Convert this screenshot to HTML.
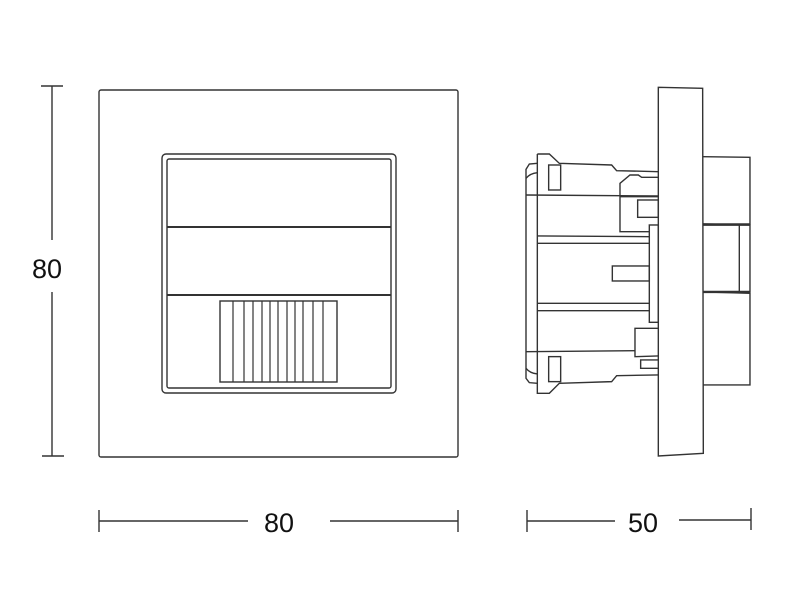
<!DOCTYPE html>
<html><head><meta charset="utf-8"><style>
html,body{margin:0;padding:0;background:#fff;}
svg{display:block;}
text{font-family:"Liberation Sans",sans-serif;fill:#111;}
</style></head><body>
<svg width="800" height="610" viewBox="0 0 800 610" xmlns="http://www.w3.org/2000/svg">
<g fill="none" stroke="#333" stroke-width="1.4">
<!-- front frame -->
<rect x="99" y="90" width="359" height="367" rx="2"/>
<rect x="162" y="154" width="234" height="239" rx="4"/>
<rect x="167" y="159" width="224" height="229" rx="2"/>
<line x1="167" y1="227" x2="391" y2="227" stroke-width="2"/>
<line x1="167" y1="295" x2="391" y2="295" stroke-width="2"/>
<rect x="220" y="301" width="117" height="81"/>
<g stroke-width="1.2">
<line x1="233" y1="301" x2="233" y2="382"/>
<line x1="244" y1="301" x2="244" y2="382"/>
<line x1="253" y1="301" x2="253" y2="382"/>
<line x1="262" y1="301" x2="262" y2="382"/>
<line x1="270" y1="301" x2="270" y2="382"/>
<line x1="278" y1="301" x2="278" y2="382"/>
<line x1="287" y1="301" x2="287" y2="382"/>
<line x1="295" y1="301" x2="295" y2="382"/>
<line x1="303" y1="301" x2="303" y2="382"/>
<line x1="313" y1="301" x2="313" y2="382"/>
<line x1="323" y1="301" x2="323" y2="382"/>
</g>
<!-- dims -->
<line x1="52" y1="86" x2="52" y2="240"/>
<line x1="52" y1="292" x2="52" y2="456"/>
<line x1="41" y1="86" x2="63" y2="86"/>
<line x1="42" y1="456" x2="64" y2="456"/>
<line x1="99" y1="521" x2="248" y2="521"/>
<line x1="330" y1="521" x2="458" y2="521"/>
<line x1="99" y1="510" x2="99" y2="532"/>
<line x1="458" y1="510" x2="458" y2="532"/>
<line x1="527" y1="521" x2="615" y2="521"/>
<line x1="679" y1="520" x2="751" y2="520"/>
<line x1="527" y1="510" x2="527" y2="532"/>
<line x1="751" y1="508" x2="751" y2="530"/>
</g>
<g transform="translate(510,80) scale(0.3333)" fill="none" stroke="#333" stroke-width="4.2">
<!-- plate -->
<path d="M445 22 L578 25 L580 1120 L445 1128 Z"/>
<!-- right blocks -->
<path d="M580 230 L720 232 L720 432 L580 432"/>
<path d="M580 432 L720 435 L720 636 L580 636" />
<line x1="580" y1="434" x2="720" y2="434" stroke-width="7"/>
<line x1="580" y1="636" x2="720" y2="636" stroke-width="7"/>
<line x1="688" y1="434" x2="688" y2="636"/>
<path d="M580 636 L720 640 L720 915 L580 915"/>
<!-- left body -->
<path d="M82 222 L118 222 L148 250 L305 255 L320 272 L445 275"/>
<path d="M82 222 L82 940 L118 940 L148 910 L305 905 L320 887 L445 885"/>
<path d="M82 250 L58 252 L48 268 L48 895 L58 908 L82 910"/>
<path d="M48 295 Q60 280 82 278"/>
<path d="M48 865 Q60 880 82 882"/>
<rect x="116" y="255" width="36" height="75"/>
<rect x="116" y="830" width="36" height="75"/>
<line x1="48" y1="345" x2="445" y2="348"/>
<line x1="48" y1="815" x2="375" y2="812"/>
<path d="M445 292 L395 292 L385 285 L360 285 L330 310 L330 455 L418 455"/>
<line x1="330" y1="350" x2="445" y2="350"/>
<rect x="383" y="360" width="62" height="52"/>
<rect x="418" y="435" width="27" height="292"/>
<line x1="82" y1="468" x2="418" y2="470"/>
<line x1="82" y1="490" x2="418" y2="490"/>
<line x1="82" y1="670" x2="418" y2="670"/>
<line x1="82" y1="692" x2="418" y2="692"/>
<rect x="307" y="558" width="111" height="45"/>
<path d="M445 745 L375 745 L375 830 L445 828"/>
<path d="M445 840 L392 840 L392 865 L445 865"/>
</g>
<text x="47" y="278" font-size="27" text-anchor="middle">80</text>
<text x="279" y="532" font-size="27" text-anchor="middle">80</text>
<text x="643" y="532" font-size="27" text-anchor="middle">50</text>
</svg>
</body></html>
